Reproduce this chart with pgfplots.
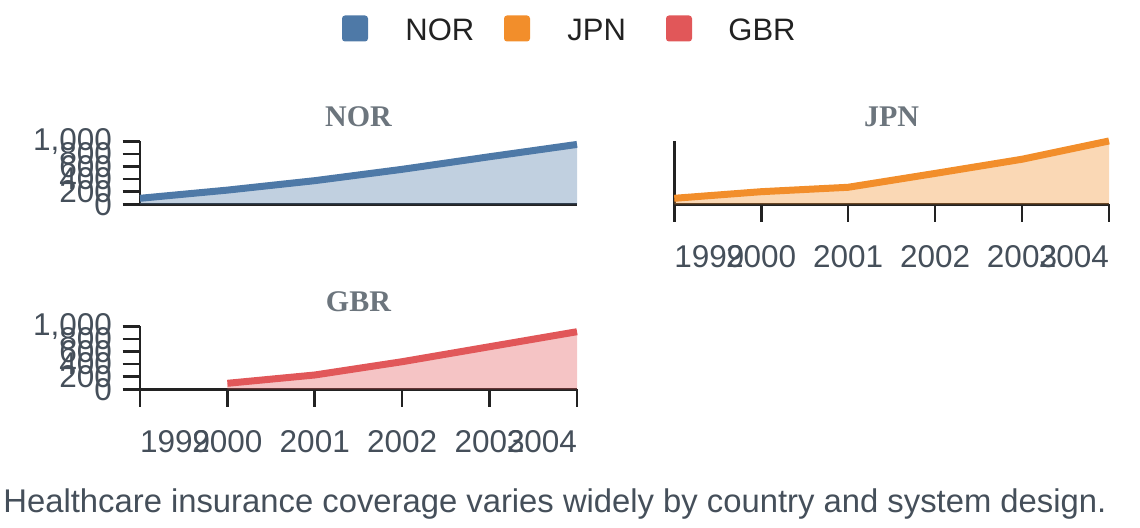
\documentclass[border=0pt]{standalone}
\usepackage{pgfplots}
\pgfplotsset{compat=1.18}
\usepackage{fontspec}
\setmainfont{Liberation Sans}
\newfontfamily\titlefont{Liberation Serif}
\definecolor{cNOR}{HTML}{4E79A7}
\definecolor{cJPN}{HTML}{F28E2B}
\definecolor{cGBR}{HTML}{E15759}
\definecolor{axisc}{HTML}{222222}
\definecolor{tickc}{HTML}{454F5A}
\definecolor{titlec}{HTML}{6C757D}
\pgfplotsset{
  facet/.style={
    scale only axis, anchor=south west,
    width=218.5pt, height=31.5pt,
    xmin=1999, xmax=2004, ymin=0, ymax=1000,
    axis x line=bottom, axis y line=left,
    axis line style={-, line width=1.3pt, color=axisc},
    tick style={line width=1.3pt, color=axisc},
    tick align=outside, major tick length=8.75pt,
    ytick={0,200,...,1000}, xtick={1999,...,2004},
    clip=false, no markers,
    font=\fontsize{15.75pt}{18pt}\selectfont,
    tick label style={text=tickc, font=\fontsize{15.75pt}{18pt}\selectfont},
    /pgf/number format/assume math mode=true,
    yticklabel style={anchor=east, xshift=-1.75pt},
    xticklabel style={anchor=north, yshift=-8.5pt},
    xticklabel={\ifcase\ticknum\makebox[0pt][l]{1999}\or 2000\or 2001\or 2002\or 2003\or\makebox[0pt][r]{2004}\fi},
    title style={at={(0.5,1)}, anchor=base, yshift=1.5pt, inner sep=0pt,
      font=\titlefont\bfseries\fontsize{15pt}{16pt}\selectfont, text=titlec},
  }
}
\begin{document}
\begin{tikzpicture}
\useasboundingbox (0,0) rectangle (570pt,264pt);
% legend
\fill[cNOR, rounded corners=1.5pt] (171pt,243.25pt) rectangle ++(13pt,13pt);
\node[anchor=base west, inner sep=0pt, text=axisc, font=\fontsize{15.5pt}{18pt}\selectfont] at (202.5pt,243.5pt) {NOR};
\fill[cJPN, rounded corners=1.5pt] (252pt,243.25pt) rectangle ++(13pt,13pt);
\node[anchor=base west, inner sep=0pt, text=axisc, font=\fontsize{15.5pt}{18pt}\selectfont] at (283.5pt,243.5pt) {JPN};
\fill[cGBR, rounded corners=1.5pt] (333pt,243.25pt) rectangle ++(13pt,13pt);
\node[anchor=base west, inner sep=0pt, text=axisc, font=\fontsize{15.5pt}{18pt}\selectfont] at (364pt,243.5pt) {GBR};

% NOR
\begin{axis}[facet, at={(70pt,161.85pt)}, title=NOR, xtick=\empty]
\addplot[draw=none, fill=cNOR, fill opacity=0.35, forget plot] coordinates {(1999,95) (2000,225) (2001,375) (2002,555) (2003,755) (2004,950)} \closedcycle;
\addplot[cNOR, line width=3.5pt, line join=round] coordinates {(1999,95) (2000,225) (2001,375) (2002,555) (2003,755) (2004,950)};
\end{axis}

% JPN
\begin{axis}[facet, at={(337.15pt,161.85pt)}, width=217.35pt, title=JPN, ytick=\empty]
\addplot[draw=none, fill=cJPN, fill opacity=0.35, forget plot] coordinates {(1999,95) (2000,200) (2001,270) (2002,490) (2003,715) (2004,1005)} \closedcycle;
\addplot[cJPN, line width=3.5pt, line join=round] coordinates {(1999,95) (2000,200) (2001,270) (2002,490) (2003,715) (2004,1005)};
\end{axis}

% GBR
\begin{axis}[facet, at={(70pt,69.35pt)}, title=GBR]
\addplot[draw=none, fill=cGBR, fill opacity=0.35, forget plot] coordinates {(2000,95) (2001,227) (2002,438) (2003,676) (2004,914)} \closedcycle;
\addplot[cGBR, line width=3.5pt, line join=round] coordinates {(2000,95) (2001,227) (2002,438) (2003,676) (2004,914)};
\end{axis}

\node[anchor=base west, inner sep=0pt, text=tickc, font=\fontsize{16.4pt}{19pt}\selectfont] at (1.5pt,7.5pt) {Healthcare insurance coverage varies widely by country and system design.};
\end{tikzpicture}
\end{document}
